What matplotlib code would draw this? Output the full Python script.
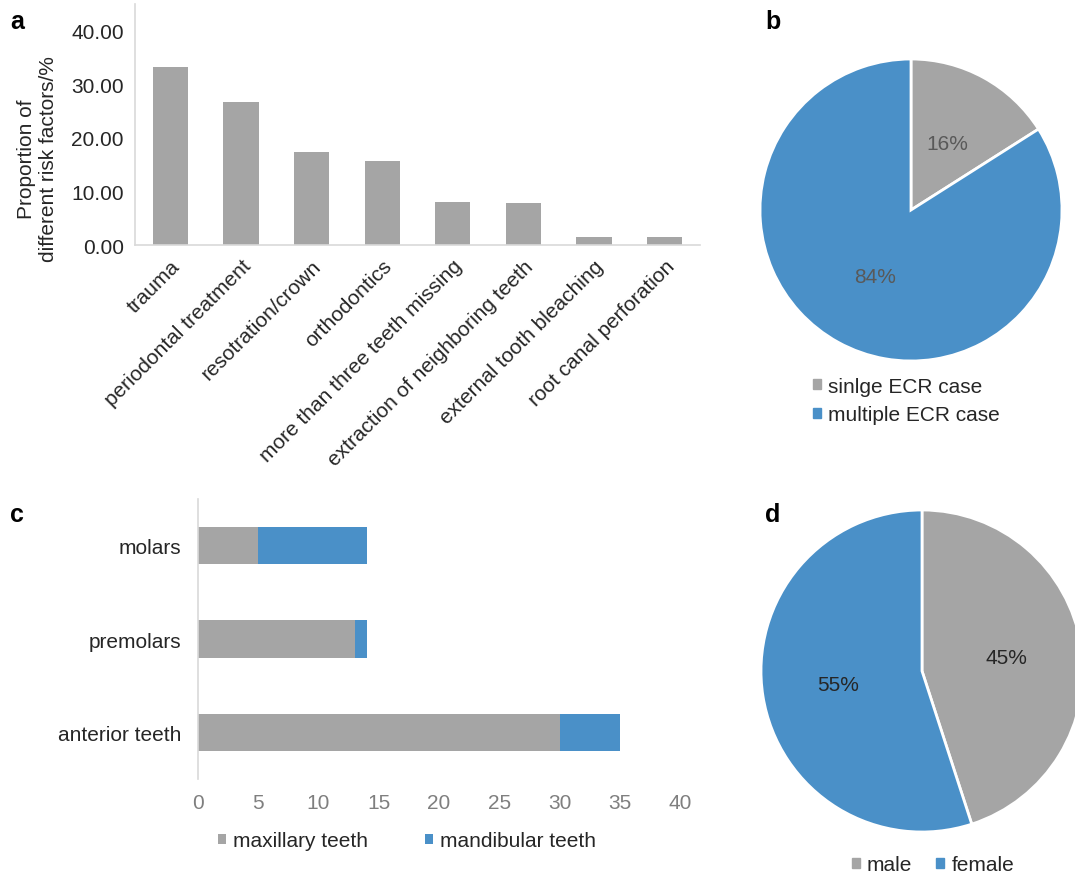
import matplotlib
matplotlib.use("Agg")
import matplotlib.pyplot as plt
from matplotlib.patches import Patch

plt.rcParams['font.family'] = ['Liberation Sans', 'DejaVu Sans']
plt.rcParams['font.size'] = 15

GRAY = '#a5a5a5'
BLUE = '#4a90c8'
AXIS = '#d9d9d9'
DARK = '#262626'

# risk factors (panel a)
risk_labels = ['trauma', 'periodontal treatment', 'resotration/crown', 'orthodontics',
               'more than three teeth missing', 'extraction of neighboring teeth',
               'external tooth bleaching', 'root canal perforation']
risk_values = [33.2, 26.7, 17.3, 15.7, 8.1, 7.8, 1.5, 1.5]

# single vs multiple ECR (panel b)
case_labels = ['sinlge ECR case', 'multiple ECR case']
case_values = [16, 84]

# tooth position (panel c)
tooth_labels = ['anterior teeth', 'premolars', 'molars']
maxillary = [30, 13, 5]
mandibular = [5, 1, 9]

# gender (panel d)
sex_labels = ['male', 'female']
sex_values = [45, 55]

W, H = 1075, 878
fig = plt.figure(figsize=(W / 100, H / 100), dpi=100)

legend_style = dict(frameon=False, handlelength=0.38, handleheight=0.38,
                    handletextpad=0.35, labelcolor=DARK, fontsize=15)


def px_axes(left, top, right, bottom):
    return fig.add_axes([left / W, 1 - bottom / H, (right - left) / W, (bottom - top) / H])


def style_spines(ax, keep):
    for name, sp in ax.spines.items():
        sp.set_visible(name in keep)
        sp.set_color(AXIS)
        sp.set_linewidth(1.2)


# ---- a: bar chart of risk factors
ax = px_axes(135, 5, 700, 246)
ax.bar(range(len(risk_values)), risk_values, width=0.5, color=GRAY)
ax.set_xlim(-0.5, len(risk_values) - 0.5)
ax.set_ylim(0, 45)
ax.set_yticks([0, 10, 20, 30, 40])
ax.set_yticklabels([f'{v:.2f}' for v in [0, 10, 20, 30, 40]], color=DARK)
ax.set_xticks(range(len(risk_labels)))
ax.set_xticklabels(risk_labels, rotation=45, ha='right', rotation_mode='anchor', color=DARK)
ax.tick_params(length=0, pad=8)
style_spines(ax, ['left', 'bottom'])
ax.set_ylabel('Proportion of\ndifferent risk factors/%', color=DARK, linespacing=1.15)
ax.yaxis.set_label_coords(-0.137, 0.36)

# ---- b: pie single/multiple
r_b = 151
axb = px_axes(911 - 165, 211 - 165, 911 + 165, 211 + 165)
axb.pie(case_values, colors=[GRAY, BLUE], startangle=90, counterclock=False,
        autopct='%1.0f%%', pctdistance=0.5,
        wedgeprops=dict(edgecolor='white', linewidth=2),
        textprops=dict(color='#595959', fontsize=15))
R = 165 / r_b
axb.set_xlim(-R, R)
axb.set_ylim(-R, R)
axb.set_aspect('equal')
fig.legend(handles=[Patch(color=GRAY), Patch(color=BLUE)], labels=case_labels,
           loc='upper left', bbox_to_anchor=(794 / W, 1 - 359 / H),
           labelspacing=0.45, **legend_style)

# ---- c: stacked horizontal bars
axc = px_axes(198, 500, 680, 780)
ypos = range(len(tooth_labels))
axc.barh(ypos, maxillary, height=0.4, color=GRAY, label='maxillary teeth')
axc.barh(ypos, mandibular, left=maxillary, height=0.4, color=BLUE, label='mandibular teeth')
axc.set_xlim(0, 40)
axc.set_ylim(-0.5, len(tooth_labels) - 0.5)
axc.set_xticks(range(0, 41, 5))
axc.set_yticks(list(ypos))
axc.set_yticklabels(tooth_labels, color=DARK)
axc.tick_params(axis='x', colors='#7f7f7f', length=0, pad=10)
axc.tick_params(axis='y', length=0, pad=12)
style_spines(axc, ['left'])
handles, labels = axc.get_legend_handles_labels()
fig.legend(handles, labels, loc='center left', bbox_to_anchor=(199 / W, 1 - 842 / H),
           ncol=2, columnspacing=2.75, **legend_style)

# ---- d: pie gender
r_d = 161
axd = px_axes(922 - 172, 672 - 172, 922 + 172, 672 + 172)
axd.pie(sex_values, colors=[GRAY, BLUE], startangle=90, counterclock=False,
        autopct='%1.0f%%', pctdistance=0.53,
        wedgeprops=dict(edgecolor='white', linewidth=2),
        textprops=dict(color=DARK, fontsize=15))
R = 172 / r_d
axd.set_xlim(-R, R)
axd.set_ylim(-R, R)
axd.set_aspect('equal')
fig.legend(handles=[Patch(color=GRAY), Patch(color=BLUE)], labels=sex_labels,
           loc='center left', bbox_to_anchor=(833 / W, 1 - 866 / H), ncol=2,
           columnspacing=1.15, **legend_style)

# panel letters
for letter, (x, y) in zip('abcd', [(10, 22), (765, 22), (10, 515), (765, 515)]):
    fig.text(x / W, 1 - y / H, letter, fontsize=18, fontweight='bold', va='center', color='black')

fig.savefig('out.png', dpi=100)
